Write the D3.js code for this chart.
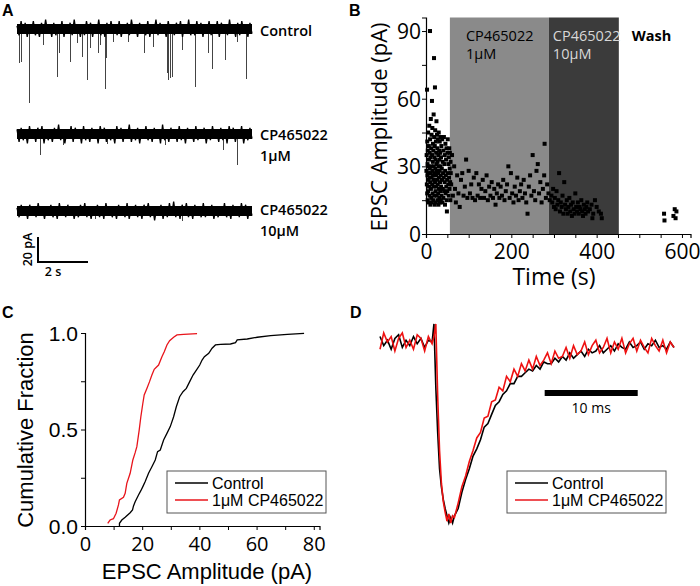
<!DOCTYPE html>
<html><head><meta charset="utf-8">
<script src="https://cdn.jsdelivr.net/npm/d3@7"></script>
<style>body{margin:0;background:#fff}svg{display:block}</style>
</head><body>
<svg id="c" width="700" height="586"></svg>
<script>
// ---------- Panel A data ----------
const traceLabels = [["Control"], ["CP465022", "1\u03bcM"], ["CP465022", "10\u03bcM"]];
const traceDuration = 9.4; // s
const noiseCtrl = [2,-4,5,-3,4,-5,3,-2,5,-4,1,-5,4,-3,6,-2,3,-5,4,-4,2,-3,5,-5,3,-2,4,-4,6,-3,2,-5,3,-4,5,-2,4,-5,3,-3,6,-4,2,-5,4,-3,5,-2,3,-4,5,-5,2,-3,4,-4,6,-2,3,-5,4,-3,2,-4,5,-5,3,-2,6,-4,4,-3,2,-5,5,-3,3,-4,4,-2,5,-5,3,-3,6,-4,2,-4,5,-3,4,-5,3,-2,5,-4,3,-3,5,-5,4,-2,3,-4,6,-3,2,-5,4,-4,5,-2,3,-5,4,-3];
const noise1uM = [3,-5,4,-4,2,-6,5,-3,3,-5,4,-2,5,-6,3,-4,2,-5,4,-3,6,-4,3,-6,2,-3,5,-5,4,-2,3,-6,5,-4,2,-5,4,-3,3,-6,5,-2,4,-5,3,-4,2,-6,5,-3,4,-5,3,-2,6,-5,2,-4,4,-6,3,-3,5,-4,2,-5,4,-3,3,-6,6,-4,2,-5,4,-2,3,-5,5,-4,3,-6,4,-3,2,-5,5,-4,3,-2,4,-6,3,-4,5,-3,2,-5,4,-4,3,-6,5,-2,4,-5,3,-3,5,-6,2,-4,4,-3];
const noise10uM = [2,-4,4,-3,3,-5,4,-2,3,-4,5,-3,2,-5,3,-3,4,-4,2,-5,5,-3,3,-4,4,-2,3,-5,2,-4,4,-3,5,-4,3,-5,2,-3,4,-4,3,-5,5,-2,3,-4,2,-5,4,-3,3,-4,5,-5,2,-3,4,-4,3,-5,4,-2,5,-4,3,-6,2,-3,4,-5,3,-4,5,-3,6,-4,3,-5,4,-2,5,-4,3,-5,4,-3,2,-4,5,-4,3,-3,4,-5,2,-4,3,-3,5,-4,2,-5,4,-3,3,-4,5,-2,4,-5,3,-3];
// events: [time s, amplitude pA]
const eventsCtrl = [[0.08,27],[0.16,26],[0.48,59],[1.04,13],[1.6,38],[1.68,19],[2.12,26],[2.4,11],[2.6,22],[2.8,41],[2.92,15],[3.24,19],[3.32,13],[3.52,48],[3.56,23],[3.84,10],[4.44,10],[5.08,19],[5.44,14],[6.0,35],[6.04,41],[6.12,39],[6.2,38],[6.6,17],[7.12,46],[7.64,19],[7.8,32],[8.32,25],[8.8,10],[9.16,40]];
const events1uM = [[0.92,17],[1.85,9],[3.6,8],[5.9,9],[8.24,13],[8.8,25]];
const events10uM = [[6.6,8],[3.1,6]];

// ---------- Panel B data ----------
const phaseBounds = [56, 288, 452]; // s: 1uM start, 10uM start, wash start
const phaseLabels = [["CP465022", "1\u03bcM"], ["CP465022", "10\u03bcM"], ["Wash"]];
const ptsControl = [[1,28],[1.5,35],[2,22],[2.4,64],[2.8,18],[3,41],[3.3,26],[3.7,31],[4,15],[4.2,37],[4.6,24],[5,45],[5.2,19],[5.6,30],[6,27],[6.3,14],[6.7,39],[7,33],[7.2,21],[7.6,48],[8,25],[8.3,17],[8.7,36],[9,29],[9.4,90],[9.6,42],[10,23],[10.3,13],[10.7,34],[11,27],[11.3,51],[11.6,20],[12,38],[12.3,16],[12.7,30],[13,44],[13.4,25],[13.7,14],[14,59],[14.2,35],[14.5,22],[14.9,47],[15.2,28],[15.5,18],[15.9,32],[16.2,40],[16.5,26],[16.9,15],[17.2,37],[17.5,21],[17.9,53],[18.2,30],[18.5,24],[18.8,78],[19,43],[19.3,17],[19.7,34],[20,27],[20.3,13],[20.6,39],[21,65],[21.2,23],[21.5,46],[21.9,29],[22.2,19],[22.5,33],[22.9,14],[23.2,41],[23.5,26],[23.8,36],[24.2,21],[24.5,50],[24.8,31],[25.2,17],[25.5,28],[25.8,44],[26.2,24],[26.5,38],[26.8,15],[27.2,32],[27.5,22],[27.8,42],[28.2,27],[28.5,18],[28.8,35],[29.2,13],[29.5,30],[29.8,45],[30.2,25],[30.5,20],[30.8,37],[31.2,16],[31.5,33],[31.8,28],[32.2,41],[32.5,14],[32.8,23],[33.2,36],[33.5,19],[33.8,30],[34.2,43],[34.5,26],[34.8,15],[35.2,34],[35.5,21],[36,39],[36.5,17],[37,29],[37.5,24],[38,42],[38.5,14],[39,32],[39.5,20],[40,27],[40.5,37],[41,16],[41.5,25],[42,43],[42.5,19],[43,31],[43.5,23],[44,35],[44.5,13],[45,28],[45.5,40],[46,18],[46.5,26],[47,33],[47.5,21],[48,38],[48.5,15],[49,10],[49.5,24],[50,36],[50.5,19],[51,42],[51.5,27],[52,22],[52.5,31],[53,17],[53.5,34],[54,25],[54.5,38],[55,20],[55.5,29],[56,36],[56.5,23],[57,15],[57.5,32],[58,27]];
const pts1uM = [[59,22],[61,35],[63,17],[66,30],[68,20],[70,14],[73,26],[76,18],[79,12],[82,24],[85,27],[88,17],[91,21],[94,33],[97,16],[100,28],[103,18],[106,22],[109,16],[112,25],[115,15],[118,27],[121,17],[124,22],[127,16],[130,20],[133,24],[136,16],[139,19],[142,26],[145,15],[148,21],[151,17],[154,23],[157,16],[160,20],[163,13],[166,18],[169,22],[172,16],[175,21],[178,17],[181,24],[184,15],[187,19],[190,22],[193,30],[196,16],[199,27],[202,18],[205,14],[208,21],[211,17],[214,25],[217,15],[220,19],[223,22],[226,16],[229,24],[232,18],[235,14],[238,9],[241,21],[244,26],[247,17],[250,35],[253,19],[256,15],[259,28],[262,31],[265,18],[268,23],[271,14],[274,20],[277,26],[278,40],[281,16],[284,22],[287,18],[290,15]];
const pts10uM = [[294,17],[296,14],[298,20],[300,12],[302,16],[304,11],[306,19],[308,13],[310,15],[312,27],[314,10],[316,14],[318,12],[320,17],[322,9],[324,23],[326,13],[328,11],[330,15],[332,9],[334,12],[336,16],[338,10],[340,13],[342,8],[344,14],[346,11],[348,9],[350,18],[352,12],[354,10],[356,14],[358,9],[360,12],[362,11],[364,15],[366,10],[368,8],[370,13],[372,11],[374,9],[376,12],[378,14],[380,10],[384,11],[388,13],[390,7],[392,9],[396,15],[400,12],[405,10],[410,9],[412,7]];
const ptsWash = [[558,9],[559,6],[580,8],[583,11],[585,7],[587,10]];
const bXTicks = [0, 200, 400, 600];
const bYTicks = [0, 30, 60, 90];

// ---------- Panel C data ----------
const cdfControl = [[12.05,0.0],[12.05,0.014],[12.87,0.031],[14.04,0.045],[15.79,0.069],[16.61,0.083],[16.96,0.104],[17.54,0.126],[18.71,0.161],[19.53,0.183],[20.23,0.204],[21.05,0.230],[22.22,0.273],[23.39,0.307],[24.56,0.342],[25.38,0.385],[26.32,0.394],[27.49,0.446],[28.65,0.480],[29.82,0.515],[30.99,0.566],[31.93,0.618],[33.10,0.670],[34.27,0.696],[35.44,0.713],[36.61,0.748],[37.78,0.782],[38.95,0.808],[40.12,0.834],[40.94,0.860],[41.75,0.877],[43.27,0.895],[44.44,0.921],[45.61,0.938],[47.37,0.941],[50.88,0.943],[52.63,0.950],[53.22,0.964],[56.73,0.969],[60.23,0.978],[64.91,0.986],[70.76,0.993],[76.61,0.998]];
const cdfDrug = [[7.95,0.014],[8.77,0.031],[9.94,0.038],[10.88,0.066],[11.70,0.109],[12.05,0.135],[13.45,0.149],[14.04,0.169],[14.62,0.221],[15.79,0.273],[16.73,0.342],[17.54,0.380],[18.13,0.411],[18.95,0.497],[19.53,0.566],[20.23,0.636],[20.70,0.679],[21.64,0.713],[22.57,0.748],[23.39,0.782],[24.21,0.812],[25.73,0.834],[26.90,0.877],[27.72,0.903],[28.65,0.938],[29.59,0.960],[30.99,0.978],[32.16,0.990],[34.50,0.993],[39.18,0.997]];
const cXTicks = [0, 20, 40, 60, 80];
const cYTicks = [0, 0.5, 1.0];
const legendLabels = ["Control", "1\u03bcM CP465022"];

// ---------- Panel D data ----------
const dTime = [0,0.4,0.8,1.2,1.6,2.0,2.4,2.8,3.2,3.6,4.0,4.4,4.8,5.2,5.6,5.8,6.0,6.2,6.4,6.6,6.8,7.0,7.2,7.4,7.6,7.8,8.0,8.4,8.8,9.2,9.6,10.0,10.4,10.8,11.2,11.6,12.0,12.4,12.8,13.2,13.6,14.0,14.4,14.8,15.2,15.6,16.0,16.4,16.8,17.2,17.6,18.0,18.4,18.8,19.2,19.6,20.0,20.4,20.8,21.2,21.6,22.0,22.4,22.8,23.2,23.6,24.0,24.4,24.8,25.2,25.6,26.0,26.4,26.8,27.2,27.6,28.0,28.4,28.8,29.2,29.6,30.0,30.4,30.8,31.2,31.6];
const dControl = [0.03,-0.02,0.01,-0.04,0.02,0.04,-0.03,0.01,-0.02,0.03,-0.01,0.02,-0.03,0.01,0.00,0.10,-0.25,-0.50,-0.70,-0.80,-0.87,-0.92,-0.96,-1.0,-0.97,-1.0,-0.96,
  -0.92,-0.83,-0.76,-0.70,-0.63,-0.59,-0.54,-0.47,-0.45,-0.40,-0.35,-0.33,-0.29,-0.27,-0.23,-0.23,-0.19,-0.19,-0.17,-0.15,-0.16,-0.13,-0.15,-0.11,-0.12,-0.12,-0.09,-0.11,-0.08,-0.10,-0.06,-0.09,-0.07,-0.05,-0.08,-0.04,-0.06,-0.05,-0.02,-0.06,-0.04,-0.02,-0.05,-0.01,-0.03,-0.04,0.00,-0.03,-0.02,0.00,-0.04,-0.01,-0.02,0.01,-0.03,-0.02,-0.04,0.00,-0.03];
const dDrug = [-0.04,0.05,0.00,0.03,-0.05,0.02,0.05,-0.03,0.01,-0.04,0.04,0.02,-0.05,0.03,-0.01,0.03,0.10,-0.30,-0.60,-0.78,-0.88,-0.94,-0.99,-0.95,-1.0,-0.96,-0.97,
  -0.89,-0.80,-0.74,-0.66,-0.60,-0.53,-0.50,-0.42,-0.41,-0.33,-0.32,-0.25,-0.27,-0.19,-0.22,-0.15,-0.19,-0.12,-0.16,-0.10,-0.15,-0.08,-0.13,-0.10,-0.06,-0.12,-0.05,-0.09,-0.08,-0.03,-0.09,-0.02,-0.07,-0.05,0.00,-0.07,-0.02,0.01,-0.06,-0.03,0.02,-0.06,0.00,-0.04,0.02,-0.06,-0.01,0.02,-0.05,0.01,-0.03,-0.06,0.02,-0.02,-0.05,0.01,-0.06,0.00,-0.03];
const dScaleBar = {start: 17.7, length: 10, label: "10 ms"};
const aScaleBar = {t0: 0.84, dur: 2, pA: 20, tLabel: "2 s", aLabel: "20 pA"};

// ================= drawing =================
const svg = d3.select("#c");
const SANS = "'Liberation Sans', Arial, sans-serif";
const OPEN = "'Open Sans', 'DejaVu Sans', sans-serif";
function letter(t, x, y) {
  svg.append("text").attr("x", x).attr("y", y).text(t)
    .attr("font-family", SANS).attr("font-weight", "bold").attr("font-size", 16);
}
letter("A", 2, 16); letter("B", 349, 16); letter("C", 2, 318); letter("D", 350, 318);

// ---- Panel A ----
const xA = d3.scaleLinear().domain([0, traceDuration]).range([17, 252]);
const traces = [
  {noise: noiseCtrl, events: eventsCtrl, base: 29, labelY: [36]},
  {noise: noise1uM, events: events1uM, base: 134, labelY: [140, 161]},
  {noise: noise10uM, events: events10uM, base: 211, labelY: [215, 236]}
];
const gA = svg.append("g");
traces.forEach((tr, k) => {
  const yS = d3.scaleLinear().domain([0, -20]).range([tr.base, tr.base + 25]);
  const n = tr.noise.length;
  tr.events.forEach(e => {
    gA.append("path")
      .attr("d", `M${Math.round(xA(e[0])) + 0.5},${yS(0)}L${Math.round(xA(e[0])) + 0.5},${yS(-e[1])}`)
      .attr("fill", "none").attr("stroke", "#444").attr("stroke-width", 1).attr("shape-rendering", "crispEdges");
  });
  gA.append("path").attr("d", d3.area().x((d, i) => xA(i * traceDuration / (n - 1))).y0(yS(4)).y1(yS(-4))(tr.noise))
    .attr("fill", "#000");
  const line = d3.line().x((d, i) => xA(i * traceDuration / (n - 1))).y(d => yS(d * 1.25));
  gA.append("path").attr("d", line(tr.noise)).attr("fill", "none")
    .attr("stroke", "#000").attr("stroke-width", 1.3).attr("stroke-linejoin", "bevel");
  traceLabels[k].forEach((t, j) => {
    gA.append("text").attr("x", 260).attr("y", tr.labelY[j]).text(t)
      .attr("font-family", OPEN).attr("font-weight", 600).attr("font-size", 14.5);
  });
});
// A scale bar
{
  const yS = d3.scaleLinear().domain([0, 20]).range([262, 237]);
  const x0 = xA(aScaleBar.t0), x1 = xA(aScaleBar.t0 + aScaleBar.dur);
  gA.append("path").attr("d", `M${x0},${yS(aScaleBar.pA)}L${x0},${yS(0)}L${x1},${yS(0)}`)
    .attr("fill", "none").attr("stroke", "#000").attr("stroke-width", 2);
  gA.append("text").attr("x", (x0 + 15)).attr("y", 276).attr("text-anchor", "middle").text(aScaleBar.tLabel)
    .attr("font-family", OPEN).attr("font-weight", 600).attr("font-size", 12.5);
  gA.append("text").attr("transform", `translate(32,${yS(10)}) rotate(-90)`).attr("text-anchor", "middle")
    .text(aScaleBar.aLabel).attr("font-family", OPEN).attr("font-weight", 600).attr("font-size", 12.5);
}

// ---- Panel B ----
const xB = d3.scaleLinear().domain([0, 620]).range([426, 690.5]);
const yB = d3.scaleLinear().domain([0, 96]).range([234, 17.5]);
const gB = svg.append("g");
gB.append("rect").attr("x", xB(phaseBounds[0])).attr("y", yB(96)).attr("width", xB(phaseBounds[1]) - xB(phaseBounds[0]))
  .attr("height", yB(0) - yB(96)).attr("fill", "#8a8a8a");
gB.append("rect").attr("x", xB(phaseBounds[1])).attr("y", yB(96)).attr("width", xB(phaseBounds[2]) - xB(phaseBounds[1]))
  .attr("height", yB(0) - yB(96)).attr("fill", "#3b3b3b");
const phaseColors = ["#000", "#d8d8d8", "#000"];
const phaseX = [xB(phaseBounds[0]) + 16, xB(phaseBounds[1]) + 4, xB(phaseBounds[2]) + 13];
phaseLabels.forEach((lab, k) => {
  lab.forEach((t, j) => {
    gB.append("text").attr("x", phaseX[k]).attr("y", 41 + j * 18).text(t).attr("fill", phaseColors[k])
      .attr("font-family", OPEN).attr("font-weight", k === 2 ? 700 : 400).attr("font-size", 14.5);
  });
});
const allPts = ptsControl.concat(pts1uM, pts10uM, ptsWash);
gB.selectAll("rect.pt").data(allPts).enter().append("rect").attr("class", "pt")
  .attr("x", d => xB(d[0]) - 2).attr("y", d => yB(d[1]) - 2).attr("width", 4).attr("height", 4).attr("fill", "#000");
const axB = gB.append("g").attr("transform", `translate(0,${yB(0)})`)
  .call(d3.axisBottom(xB).tickValues(d3.range(0, 601, 50)).tickSize(4).tickFormat(d => bXTicks.includes(d) ? d : ""));
const ayB = gB.append("g").attr("transform", `translate(${xB(0)},0)`)
  .call(d3.axisLeft(yB).tickValues([0, 15, 30, 45, 60, 75, 90]).tickSize(4).tickFormat(d => bYTicks.includes(d) ? d : ""));
[axB, ayB].forEach(a => {
  a.select(".domain").attr("stroke", "#000").attr("stroke-width", 1.2);
  a.selectAll("text").attr("font-family", OPEN).attr("font-size", 21).attr("fill", "#000");
});
axB.selectAll("text").attr("dy", "0.85em");
ayB.selectAll("text").attr("dx", "0.1em").attr("dy", "0.35em");
gB.append("text").attr("x", 554).attr("y", 285).attr("text-anchor", "middle").text("Time (s)")
  .attr("font-family", OPEN).attr("font-size", 23);
gB.append("text").attr("transform", `translate(387,127) rotate(-90)`).attr("text-anchor", "middle")
  .text("EPSC Amplitude (pA)").attr("font-family", OPEN).attr("font-size", 22);

// ---- Panel C ----
const xC = d3.scaleLinear().domain([0, 82]).range([85, 319.5]);
const yC = d3.scaleLinear().domain([0, 1]).range([526, 333]);
const gC = svg.append("g");
const axC = gC.append("g").attr("transform", `translate(0,${yC(0)})`)
  .call(d3.axisBottom(xC).tickValues(d3.range(0, 81, 10)).tickSize(4).tickFormat(d => cXTicks.includes(d) ? d : ""));
const ayC = gC.append("g").attr("transform", `translate(${xC(0)},0)`)
  .call(d3.axisLeft(yC).tickValues([0, 0.25, 0.5, 0.75, 1]).tickSize(4).tickFormat(d => cYTicks.includes(d) ? d.toFixed(1) : ""));
[axC, ayC].forEach(a => {
  a.select(".domain").attr("stroke", "#000").attr("stroke-width", 1.2);
  a.selectAll("text").attr("font-family", OPEN).attr("font-size", 20).attr("fill", "#000");
});
axC.selectAll("text").attr("dy", "0.9em");
ayC.selectAll("text").attr("font-family", SANS).attr("font-size", 21).attr("dy", "0.35em");
const lineC = d3.line().x(d => xC(d[0])).y(d => yC(d[1]));
gC.append("path").attr("d", lineC(cdfControl)).attr("fill", "none").attr("stroke", "#000").attr("stroke-width", 1.3);
gC.append("path").attr("d", lineC(cdfDrug)).attr("fill", "none").attr("stroke", "#e8141b").attr("stroke-width", 1.3);
gC.append("text").attr("x", 207).attr("y", 579).attr("text-anchor", "middle").text("EPSC Amplitude (pA)")
  .attr("font-family", SANS).attr("font-size", 22);
gC.append("text").attr("transform", `translate(33,430) rotate(-90)`).attr("text-anchor", "middle")
  .text("Cumulative Fraction").attr("font-family", SANS).attr("font-size", 22);

function legend(g, x, y) {
  g.append("rect").attr("x", x).attr("y", y).attr("width", 159).attr("height", 42)
    .attr("fill", "#fff").attr("stroke", "#555").attr("stroke-width", 1);
  const cols = ["#000", "#e8141b"];
  legendLabels.forEach((t, i) => {
    const yy = y + 12 + i * 17;
    g.append("line").attr("x1", x + 8).attr("x2", x + 41).attr("y1", yy).attr("y2", yy)
      .attr("stroke", cols[i]).attr("stroke-width", 1.3);
    g.append("text").attr("x", x + 45).attr("y", yy + 6).text(t)
      .attr("font-family", SANS).attr("font-size", 16);
  });
}
legend(gC, 167, 471);

// ---- Panel D ----
const xD = d3.scaleLinear().domain([0, 31.6]).range([380, 674]);
const yD = d3.scaleLinear().domain([0, -1]).range([342, 523]);
const gD = svg.append("g");
const lineD = d3.line().x((d, i) => xD(dTime[i])).y(d => yD(d));
gD.append("path").attr("d", lineD(dControl)).attr("fill", "none").attr("stroke", "#000").attr("stroke-width", 1.6);
gD.append("path").attr("d", lineD(dDrug)).attr("fill", "none").attr("stroke", "#ee1111").attr("stroke-width", 1.6);
gD.append("rect").attr("x", xD(dScaleBar.start)).attr("y", 390)
  .attr("width", xD(dScaleBar.start + dScaleBar.length) - xD(dScaleBar.start)).attr("height", 6).attr("fill", "#000");
gD.append("text").attr("x", xD(dScaleBar.start + dScaleBar.length / 2)).attr("y", 413).attr("text-anchor", "middle")
  .text(dScaleBar.label).attr("font-family", OPEN).attr("font-size", 14);
legend(gD, 507, 471);
</script>
</body></html>
